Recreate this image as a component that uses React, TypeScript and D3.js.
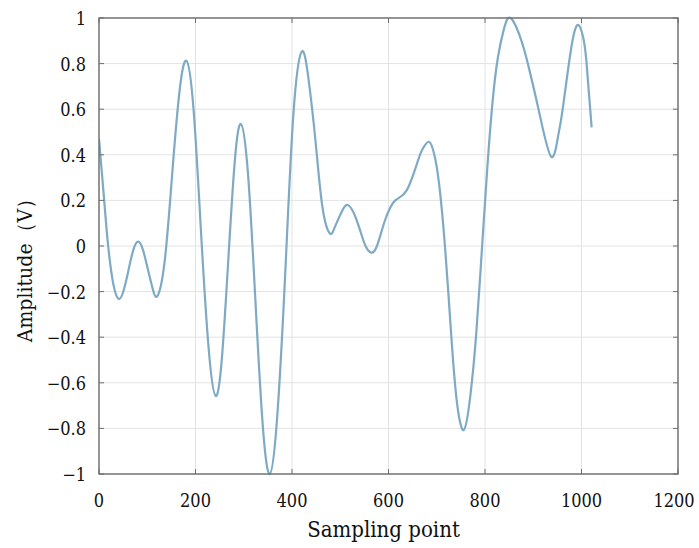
import React from "react";
import * as d3 from "d3";

const sampleIdx = [0, 10, 19, 30, 41, 51, 61, 71, 81, 91, 101, 111, 121, 136, 151, 166, 181, 196, 211, 227, 242, 255, 268, 281, 294, 309, 324, 339, 354, 370, 387, 403, 420, 434, 449, 463, 478, 487, 496, 506, 515, 527, 540, 552, 564, 576, 593, 614, 638, 662, 672, 684, 695, 705, 717, 729, 741, 756, 770, 782, 794, 805, 816, 827, 839, 853, 874, 890, 913, 937, 951, 961, 980, 994, 1003, 1010, 1021];
const amplitude = [0.47, 0.22, 0.0, -0.17, -0.232, -0.195, -0.107, -0.018, 0.019, -0.016, -0.1, -0.185, -0.22, -0.069, 0.297, 0.662, 0.813, 0.598, 0.078, -0.443, -0.658, -0.484, -0.06, 0.361, 0.535, 0.311, -0.233, -0.776, -1.0, -0.73, -0.074, 0.582, 0.852, 0.736, 0.454, 0.172, 0.056, 0.074, 0.118, 0.162, 0.18, 0.149, 0.076, 0.002, -0.029, 0.0, 0.114, 0.2, 0.245, 0.38, 0.43, 0.457, 0.4, 0.27, 0.0, -0.36, -0.67, -0.807, -0.65, -0.38, 0.0, 0.35, 0.64, 0.83, 0.95, 1.0, 0.91, 0.79, 0.58, 0.392, 0.476, 0.6, 0.885, 0.969, 0.92, 0.815, 0.52];

const xTicks = [0, 200, 400, 600, 800, 1000, 1200];
const yTicks = [-1, -0.8, -0.6, -0.4, -0.2, 0, 0.2, 0.4, 0.6, 0.8, 1];

const W = 699, H = 548;
const L = 99, R = 678, T = 18, B = 474;

export default function App() {
  const x = d3.scaleLinear().domain([0, 1200]).range([L, R]);
  const y = d3.scaleLinear().domain([-1, 1]).range([B, T]);
  const pts = sampleIdx.map((s, i) => [s, amplitude[i]] as [number, number]);
  const line = d3.line<[number, number]>().x(d => x(d[0])).y(d => y(d[1])).curve(d3.curveNatural);
  const font = "'DejaVu Serif Condensed', 'DejaVu Serif', serif";
  const fmt = (v: number) => (v < 0 ? "\u2212" + String(Math.abs(v)) : String(v));
  return (
    <svg width={W} height={H} style={{ position: "absolute", left: 0, top: 0, background: "#fff" }}>
      {xTicks.map(t => (
        <line key={"gx" + t} x1={x(t)} x2={x(t)} y1={T} y2={B} stroke="#e3e3e3" strokeWidth={1} />
      ))}
      {yTicks.map(t => (
        <line key={"gy" + t} x1={L} x2={R} y1={y(t)} y2={y(t)} stroke="#e3e3e3" strokeWidth={1} />
      ))}
      <clipPath id="clip"><rect x={L} y={T - 2} width={R - L} height={B - T + 4} /></clipPath>
      <path d={line(pts) || ""} fill="none" stroke="#7eaac3" strokeWidth={2.2} clipPath="url(#clip)" />
      <rect x={L} y={T} width={R - L} height={B - T} fill="none" stroke="#6e6e6e" strokeWidth={1.4} />
      {xTicks.map(t => (
        <g key={"tx" + t}>
          <line x1={x(t)} x2={x(t)} y1={B} y2={B - 5} stroke="#6e6e6e" />
          <line x1={x(t)} x2={x(t)} y1={T} y2={T + 5} stroke="#6e6e6e" />
          <text x={t === 1200 ? x(t) - 4 : x(t)} y={507} textAnchor="middle" fontFamily={font} fontSize={18} fill="#111">{t}</text>
        </g>
      ))}
      {yTicks.map(t => (
        <g key={"ty" + t}>
          <line x1={L} x2={L + 5} y1={y(t)} y2={y(t)} stroke="#6e6e6e" />
          <line x1={R} x2={R - 5} y1={y(t)} y2={y(t)} stroke="#6e6e6e" />
          <text x={86} y={y(t) + 7} textAnchor="end" fontFamily={font} fontSize={18} fill="#111">{fmt(t)}</text>
        </g>
      ))}
      <text x={(L + R) / 2 - 5} y={537} textAnchor="middle" fontFamily={font} fontSize={22} fill="#111">Sampling point</text>
      <text transform={`translate(32,265) rotate(-90)`} textAnchor="middle" fontFamily={font} fontSize={21} fill="#111">Amplitude（V）</text>
    </svg>
  );
}
